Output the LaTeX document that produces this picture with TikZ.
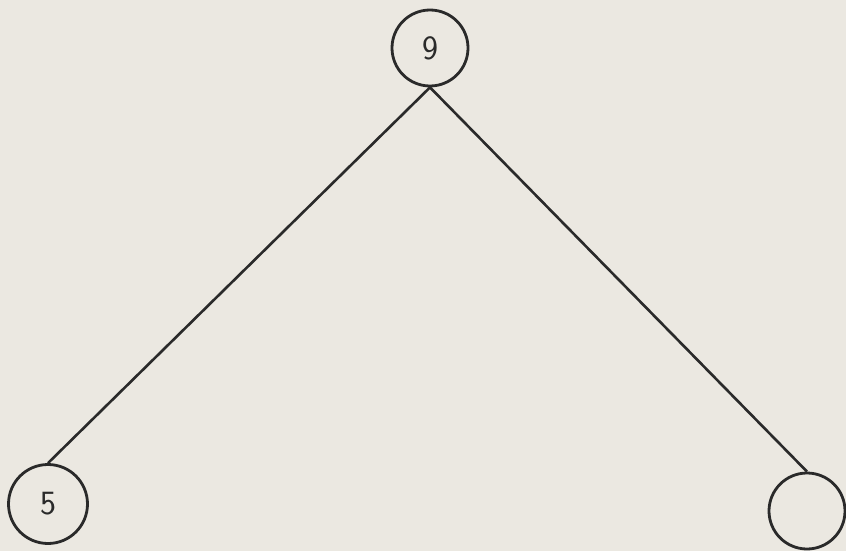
\documentclass[tikz,border=0pt]{standalone}
\usepackage{tikz}
\usetikzlibrary{positioning}
\definecolor{paper}{HTML}{EBE8E1}
\definecolor{ink}{HTML}{2A2A2A}

\begin{document}
\begin{tikzpicture}[
  x=1pt,y=-1pt,
  vertex/.style={draw=ink,circle,line width=2.8pt,minimum size=76pt,inner sep=0pt,
                 text=ink,font=\fontsize{34}{34}\sffamily},
  edge/.style={draw=ink,line width=2.6pt}
]
  \fill[paper] (0,0) rectangle (846,551);
  \useasboundingbox (0,0) rectangle (846,551);
  \node[vertex] (root) at (430,48) {9};
  \node[vertex,minimum size=79pt] (left) at (48,504) {5};
  \node[vertex] (right) at (807,511) {};
  \draw[edge] (root.south) -- (left.north);
  \draw[edge] (root.south) -- (right.north);
\end{tikzpicture}
\end{document}
